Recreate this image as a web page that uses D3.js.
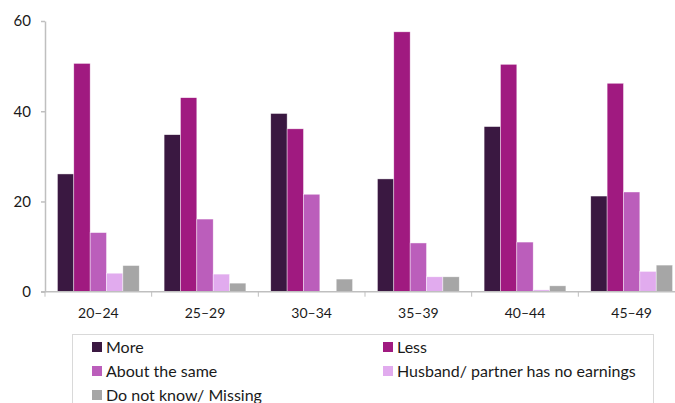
<!DOCTYPE html>
<html>
<head>
<meta charset="utf-8">
<script src="https://cdn.jsdelivr.net/npm/d3@7"></script>
<style>
  html, body { margin: 0; padding: 0; background: #fff; }
  svg { display: block; }
  text { font-family: Lato, "Open Sans", sans-serif; fill: #1a1a1a; }
</style>
</head>
<body>
<svg id="chart" width="675" height="403"></svg>
<script>
const categories = ["20–24", "25–29", "30–34", "35–39", "40–44", "45–49"];
const seriesNames = ["More", "Less", "About the same", "Husband/ partner has no earnings", "Do not know/ Missing"];
const more      = [26.1, 34.8, 39.5, 25.0, 36.6, 21.2];
const less      = [50.6, 43.0, 36.1, 57.6, 50.4, 46.2];
const aboutSame = [13.1, 16.1, 21.6, 10.8, 11.0, 22.1];
const noEarn    = [4.1, 3.9, 0, 3.3, 0.4, 4.5];
const dontKnow  = [5.8, 1.9, 2.8, 3.3, 1.3, 5.9];
const yTicks = [0, 20, 40, 60];
const colors = ["#3a1841", "#a01a80", "#bb5ebb", "#e1abee", "#a6a6a6"];

const seriesValues = [more, less, aboutSame, noEarn, dontKnow];
const svg = d3.select("#chart");

const x0 = d3.scaleBand().domain(categories).range([45, 685]).paddingInner(0).paddingOuter(0);
const x1 = d3.scaleBand().domain(seriesNames).range([0, x0.bandwidth()]).paddingInner(0).paddingOuter(0.76);
const y = d3.scaleLinear().domain([0, 60]).range([291.7, 21]);
const color = d3.scaleOrdinal().domain(seriesNames).range(colors);

// bars
const groups = svg.append("g").selectAll("g")
  .data(categories).join("g")
  .attr("transform", d => `translate(${x0(d)},0)`);
groups.selectAll("rect")
  .data((c, i) => seriesNames.map((s, k) => ({ s, v: seriesValues[k][i] })))
  .join("rect")
  .attr("x", d => x1(d.s))
  .attr("width", x1.bandwidth())
  .attr("y", d => y(d.v))
  .attr("height", d => y(0) - y(d.v))
  .attr("fill", d => color(d.s))
  .attr("stroke", "rgba(255,255,255,0.7)")
  .attr("stroke-width", 0.6);

// y axis
const yAxis = svg.append("g").attr("transform", "translate(45,0)")
  .call(d3.axisLeft(y).tickValues(yTicks).tickSize(4).tickPadding(10).tickSizeOuter(0));
yAxis.select(".domain").attr("stroke", "#bfbfbf").attr("stroke-width", 1.5);
yAxis.selectAll(".tick line").attr("stroke", "#bfbfbf").attr("stroke-width", 1.5);
yAxis.selectAll(".tick text").style("font-size", "15px").attr("fill", "#1a1a1a");

// x axis line with boundary ticks
svg.append("line").attr("x1", 41).attr("x2", 675).attr("y1", y(0)).attr("y2", y(0))
  .attr("stroke", "#bfbfbf").attr("stroke-width", 1.5);
svg.append("g").selectAll("line")
  .data(categories).join("line")
  .attr("x1", d => x0(d)).attr("x2", d => x0(d))
  .attr("y1", y(0)).attr("y2", y(0) + 5)
  .attr("stroke", "#bfbfbf").attr("stroke-width", 1);
svg.append("g").selectAll("text")
  .data(categories).join("text")
  .attr("x", d => x0(d) + x0.bandwidth() / 2)
  .attr("y", 313)
  .attr("dy", "0.35em")
  .attr("text-anchor", "middle")
  .style("font-size", "14px")
  .text(d => d);

// legend
svg.append("rect").attr("x", 72.5).attr("y", 334.5).attr("width", 581).attr("height", 80)
  .attr("fill", "none").attr("stroke", "#d9d9d9").attr("stroke-width", 1);
const legendPos = [[92, 347], [383, 347], [92, 371], [383, 371], [92, 395]];
const leg = svg.append("g").selectAll("g")
  .data(seriesNames).join("g")
  .attr("transform", (d, i) => `translate(${legendPos[i][0]},${legendPos[i][1]})`);
leg.append("rect").attr("x", 0).attr("y", -5).attr("width", 10).attr("height", 10)
  .attr("fill", d => color(d));
leg.append("text").attr("x", 14).attr("y", 0).attr("dy", "0.35em")
  .style("font-size", "16px").text(d => d);
</script>
</body>
</html>
